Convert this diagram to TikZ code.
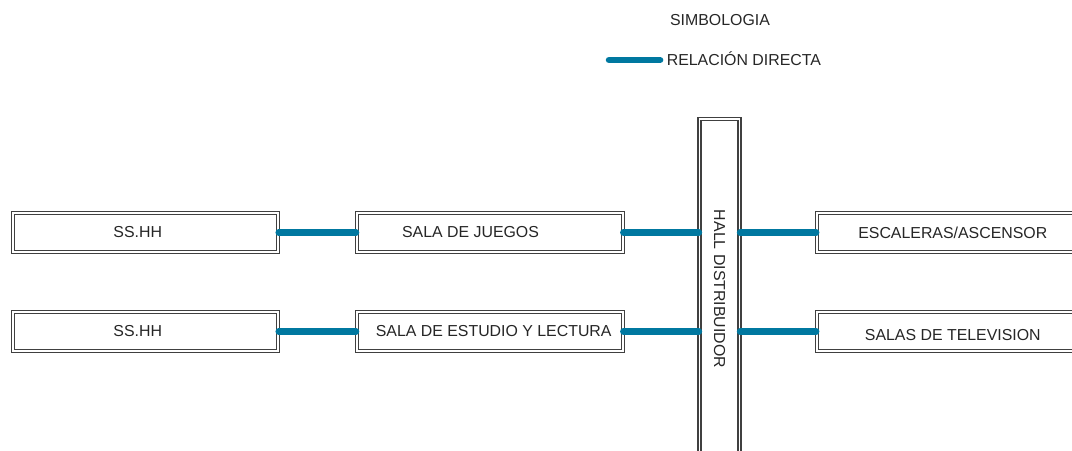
\documentclass[tikz,border=0pt]{standalone}
\usepackage{fontspec}
\setmainfont{Liberation Sans}
\usepackage{graphicx}
\definecolor{relblue}{HTML}{0078A0}
\definecolor{ink}{HTML}{262626}
\begin{document}
\begin{tikzpicture}[x=0.025cm,y=-0.025cm,
  txt/.style={text=ink,font=\fontsize{11.3}{13}\selectfont,inner sep=0pt},
  room/.style={txt,draw=black!75,line width=0.8pt,double=white,double distance=1.4pt,fill=white,minimum height=0.975cm},
  rel/.style={relblue,line width=4.6pt,line cap=round}]
\useasboundingbox (0,0) rectangle (1072,450);
\clip (0,0) rectangle (1072,450);
% legend
\node[txt] (simb) at (720,20.5) {SIMBOLOGIA};
\node[txt,anchor=base west] (reltxt) at (666.5,65.7) {RELACIÓN DIRECTA};
\coordinate (relA) at (609,60);
\draw[rel] (relA) -- ([xshift=-0.16cm]relA -| reltxt.west);
% left column
\node[room,minimum width=6.62cm,label={[txt,xshift=-0.2cm]center:SS.HH}] (ssA) at (145.7,232.5) {};
\node[room,minimum width=6.62cm,label={[txt,xshift=-0.2cm]center:SS.HH}] (ssB) at (145.7,331.5) {};
% middle column
\node[room,minimum width=6.65cm,label={[txt,xshift=-0.48cm]center:SALA DE JUEGOS}] (juegos) at (489.7,232.5) {};
\node[room,minimum width=6.65cm,label={[txt,xshift=0.1cm]center:SALA DE ESTUDIO Y LECTURA}] (estudio) at (489.7,331.5) {};
% hall
\node[room,minimum width=1cm,minimum height=8.5cm] (hall) at (719.5,289) {\rotatebox{-90}{HALL DISTRIBUIDOR}};
% right column
\node[room,minimum width=6.8cm] (escaleras) at (952.8,232.5) {ESCALERAS/ASCENSOR};
\node[room,minimum width=6.8cm,label={[txt,yshift=-0.09cm]center:SALAS DE TELEVISION}] (tele) at (952.8,331.5) {};
% relaciones
\draw[rel] (ssA) -- (juegos);
\draw[rel] (ssB) -- (estudio);
\draw[rel] (juegos) -- (juegos -| hall.west);
\draw[rel] (estudio) -- (estudio -| hall.west);
\draw[rel] (escaleras -| hall.east) -- (escaleras);
\draw[rel] (tele -| hall.east) -- (tele);
\end{tikzpicture}
\end{document}
